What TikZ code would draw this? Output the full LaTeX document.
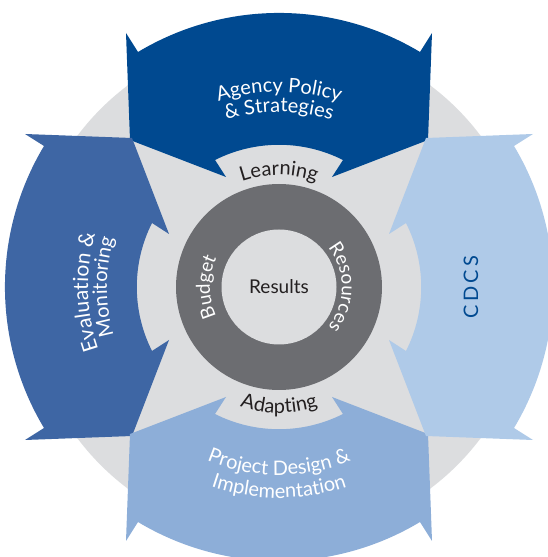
\documentclass[tikz,border=0pt]{standalone}
\usepackage{fontspec}
\setmainfont{Lato}
\usetikzlibrary{decorations.text,calc}

\definecolor{discgray}{HTML}{DCDDDF}
\definecolor{ringgray}{HTML}{6C6D71}
\definecolor{navy}{HTML}{004990}
\definecolor{midblue}{HTML}{3E66A4}
\definecolor{paleblue}{HTML}{AFCAE8}
\definecolor{softblue}{HTML}{8DAED8}
\definecolor{ink}{HTML}{231F20}

% one bent chevron, pointing towards the centre (drawn for the top position)
\tikzset{
  bentarrow/.pic={
    \fill[pic actions] (-153,254) -- (-141,235)
      arc[start angle=120.96, end angle=59.04, radius=274.1pt]
      -- (153,254) -- (149,147) -- (53,110) -- (64,127)
      arc[start angle=63.26, end angle=116.74, radius=142.2pt]
      -- (-53,110) -- (-149,147) -- cycle;
  }
}

% text set along an arc around the centre
\newcommand{\arclabel}[6]{%
  \path[decorate, decoration={text along path, text align=center,
      text color=#4, text={|\fontsize{#5}{#5}\selectfont|#6}}]
    ($(C)+(#2:#1pt)$) arc[start angle=#2, end angle=#3, radius=#1pt];}

\begin{document}
\begin{tikzpicture}[x=1pt,y=1pt]
  \useasboundingbox (0,0) rectangle (548,557);
  \clip (0,0) rectangle (548,557);
  \fill[white] (0,0) rectangle (548,557);
  \coordinate (C) at (279,270);

  % background disc
  \fill[discgray] (C) circle[radius=252pt];

  % four chevrons
  \pic[fill=navy]              at (C) {bentarrow};
  \pic[fill=midblue, rotate=90]  at (C) {bentarrow};
  \pic[fill=softblue, rotate=180] at (C) {bentarrow};
  \pic[fill=paleblue, rotate=270] at (C) {bentarrow};

  % central ring
  \fill[ringgray] (C) circle[radius=103pt];
  \fill[discgray] (C) circle[radius=57.5pt];

  % labels on the chevrons
  \arclabel{195}{130}{50}{white}{20}{Agency Policy}
  \arclabel{175}{130}{50}{white}{20}{{\&} Strategies}
  \arclabel{191}{236.6}{126.6}{white}{21}{Evaluation {\&}}
  \arclabel{172}{235}{125}{white}{20}{Monitoring}
  \arclabel{188}{225}{315}{white}{20}{Project Design {\&}}
  \arclabel{211}{225}{315}{white}{20}{Implementation}
  \node[rotate=90, text=navy, font={\fontsize{20}{22}\selectfont\addfontfeature{LetterSpace=16}}]
    (cdcs) at (471,270) {CDCS};

  % labels in the notches
  \arclabel{112}{140}{40}{ink}{20}{Learning}
  \arclabel{126}{220}{320}{ink}{20}{Adapting}

  % labels on the ring
  \arclabel{69}{260}{100}{white}{19}{Budget}
  \arclabel{63}{80}{-80}{white}{19}{Resources}
  \node[text=ink, font={\fontsize{19}{22}\selectfont}] (results) at (C) {Results};
\end{tikzpicture}
\end{document}
